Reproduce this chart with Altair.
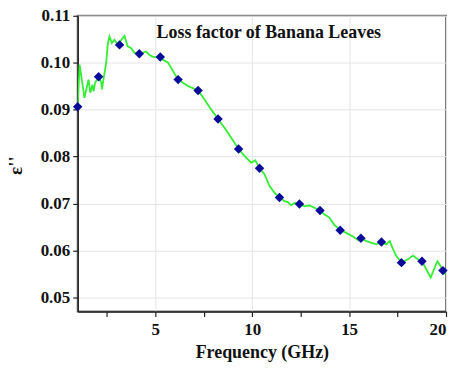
import altair as alt
import pandas as pd

# Green trace (frequency in GHz, loss factor)
line_freq = [1.00, 1.10, 1.35, 1.56, 1.65, 1.76, 1.82, 1.90, 2.08, 2.22, 2.25, 2.47, 2.56, 2.64,
             2.76, 2.90, 3.07, 3.33, 3.41, 3.50, 3.58, 3.76, 3.93, 4.18, 4.35, 4.52, 4.69, 4.86,
             4.98, 5.21, 5.41, 5.67, 5.72, 6.18, 6.70, 7.21, 7.55, 7.89, 8.24, 8.58, 8.92, 9.30,
             9.61, 9.95, 10.16, 10.38, 10.64, 10.90, 11.15, 11.41, 11.67, 11.84, 12.01, 12.18,
             12.44, 12.70, 12.95, 13.21, 13.50, 13.72, 13.98, 14.23, 14.54, 14.83, 15.22, 15.47,
             15.61, 15.90, 16.16, 16.41, 16.67, 16.92, 17.10, 17.27, 17.44, 17.70, 18.04, 18.30,
             18.55, 18.76, 18.98, 19.21, 19.38, 19.55, 19.67, 19.84, 19.98]
line_eps = [0.0906, 0.0996, 0.0925, 0.0964, 0.0936, 0.0953, 0.0939, 0.0957, 0.0970, 0.0957,
            0.0943, 0.1000, 0.1042, 0.1056, 0.1042, 0.1049, 0.1038, 0.1053, 0.1057, 0.1045,
            0.1035, 0.1031, 0.1021, 0.1019, 0.1021, 0.1024, 0.1017, 0.1013, 0.1012, 0.1012,
            0.1006, 0.1000, 0.0996, 0.0964, 0.0950, 0.0941, 0.0921, 0.0900, 0.0880, 0.0861,
            0.0840, 0.0816, 0.0801, 0.0787, 0.0792, 0.0775, 0.0762, 0.0737, 0.0723, 0.0713,
            0.0705, 0.0703, 0.0696, 0.0701, 0.0699, 0.0694, 0.0696, 0.0691, 0.0685, 0.0677,
            0.0670, 0.0655, 0.0643, 0.0638, 0.0629, 0.0622, 0.0626, 0.0620, 0.0616, 0.0613,
            0.0618, 0.0613, 0.0620, 0.0602, 0.0588, 0.0574, 0.0581, 0.0589, 0.0581, 0.0577,
            0.0560, 0.0542, 0.0560, 0.0577, 0.0570, 0.0557, 0.0549]

# Blue diamond markers
marker_freq = [1.00, 2.08, 3.16, 4.18, 5.26, 6.18, 7.21, 8.24, 9.30, 10.38, 11.41, 12.44,
               13.50, 14.54, 15.61, 16.67, 17.70, 18.76, 19.84]
marker_eps = [0.0906, 0.0970, 0.1038, 0.1019, 0.1012, 0.0964, 0.0941, 0.0880, 0.0816, 0.0775,
              0.0713, 0.0699, 0.0685, 0.0643, 0.0626, 0.0618, 0.0574, 0.0577, 0.0557]

title_text = ["Loss factor of Banana Leaves"]
x_ticks = [2.5, 5, 7.5, 10, 12.5, 15, 17.5, 20]
y_ticks = [0.05, 0.055, 0.06, 0.065, 0.07, 0.075, 0.08, 0.085, 0.09, 0.095, 0.10, 0.105, 0.11]

line_df = pd.DataFrame({"f": line_freq, "e": line_eps})
mk_df = pd.DataFrame({"f": marker_freq, "e": marker_eps})
title_df = pd.DataFrame({"t": title_text})

FONT = "Liberation Serif"

x_scale = alt.Scale(domain=[1, 20], nice=False, zero=False)
y_scale = alt.Scale(domain=[0.047, 0.11], nice=False, zero=False)

x_axis = alt.Axis(
    values=x_ticks,
    labelExpr="datum.value % 5 == 0 ? datum.label : ''",
    title="Frequency (GHz)",
    grid=True,
    gridColor={"condition": {"test": "datum.value % 5 != 0", "value": "transparent"}, "value": "#e4e4e4"},
    tickSize=5,
    labelPadding=5,
    titlePadding=6,
)
y_axis = alt.Axis(
    values=y_ticks,
    format=".2f",
    labelExpr="abs(datum.value*100 - round(datum.value*100)) < 0.01 ? datum.label : ''",
    title="ε''",
    titleAngle=-90,
    titleX=-62,
    titleY=150,
    titleBaseline="middle",
    titleFontSize=19,
    grid=True,
    gridColor={"condition": {"test": "abs(datum.value*100 - round(datum.value*100)) > 0.01",
                             "value": "transparent"}, "value": "#e4e4e4"},
    tickSize=5,
    labelPadding=3,
)

line = alt.Chart(line_df).mark_line(color="#33ee33", strokeWidth=1.8, clip=True).encode(
    x=alt.X("f:Q", scale=x_scale, axis=x_axis),
    y=alt.Y("e:Q", scale=y_scale, axis=y_axis),
)
points = alt.Chart(mk_df).mark_point(shape="diamond", filled=True, size=90, color="#0a0a9a",
                                     opacity=1).encode(
    x=alt.X("f:Q", scale=x_scale),
    y=alt.Y("e:Q", scale=y_scale),
)
title = alt.Chart(title_df).mark_text(font=FONT, fontWeight="bold", fontSize=18, color="#111",
                                      align="center", baseline="middle").encode(
    text="t:N", x=alt.value(192), y=alt.value(17)
)

chart = alt.layer(line, points, title).properties(
    width=370, height=297,
    autosize=alt.AutoSizeParams(type="none"),
    padding={"left": 70, "top": 7, "right": 5, "bottom": 60},
).configure_view(
    stroke="#777", strokeWidth=2
).configure_axis(
    labelFont=FONT, labelFontWeight="bold", labelFontSize=17, labelColor="#111",
    titleFont=FONT, titleFontWeight="bold", titleFontSize=18, titleColor="#111",
    domainColor="#222", domainWidth=1.5, tickColor="#222", tickWidth=1.2,
)

chart.save("out.html", embed_options={"renderer": "svg", "actions": False})
